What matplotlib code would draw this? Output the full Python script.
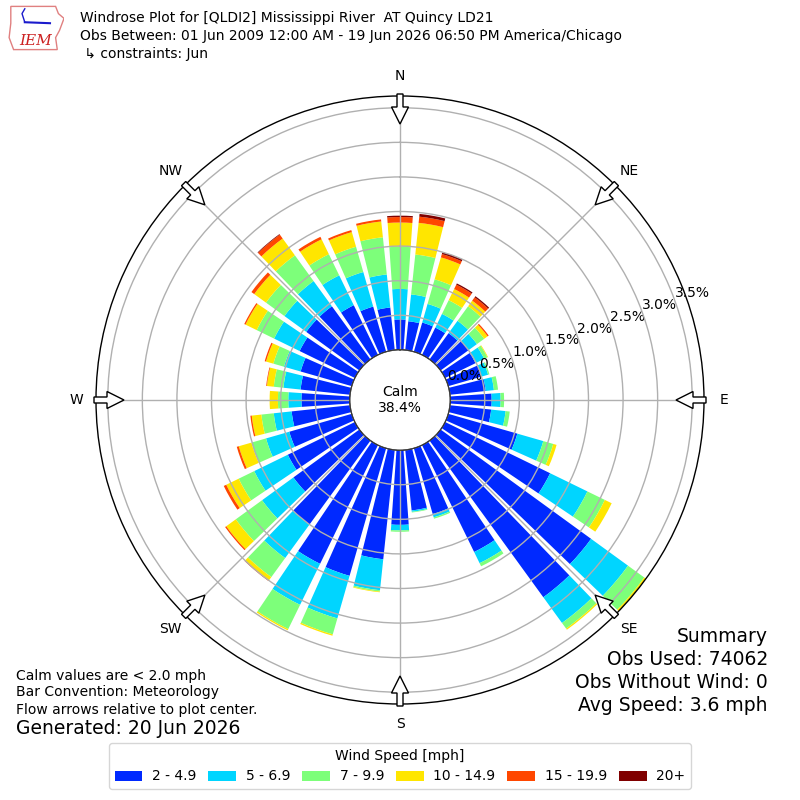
import numpy as np
import matplotlib
matplotlib.use("Agg")
import matplotlib.pyplot as plt
from matplotlib.patches import Circle, FancyArrow, Patch, Polygon

# direction bins (deg, meteorological) and percent of obs per speed bin
directions = np.arange(0, 360, 10)
bin_labels = ["2 - 4.9", "5 - 6.9", "7 - 9.9", "10 - 14.9", "15 - 19.9", "20+"]
spd_2_5 = [0.44, 0.42, 0.44, 0.44, 0.47, 0.50, 0.49, 0.50, 0.52, 0.60, 0.60, 1.04,
           1.69, 2.69, 2.80, 1.72, 0.99, 0.88, 1.08, 1.59, 1.92, 1.91, 1.50, 1.18,
           1.08, 0.94, 0.85, 0.70, 0.72, 0.77, 0.89, 0.95, 0.95, 0.80, 0.68, 0.62]
spd_5_7 = [0.44, 0.39, 0.28, 0.22, 0.22, 0.15, 0.14, 0.10, 0.12, 0.13, 0.21, 0.39,
           0.60, 0.66, 0.46, 0.18, 0.05, 0.02, 0.08, 0.45, 0.64, 0.66, 0.60, 0.56,
           0.54, 0.35, 0.26, 0.19, 0.25, 0.25, 0.41, 0.39, 0.45, 0.48, 0.52, 0.48]
spd_7_10 = [0.61, 0.58, 0.37, 0.22, 0.26, 0.13, 0.05, 0.02, 0.06, 0.05, 0.06, 0.15,
            0.28, 0.29, 0.10, 0.05, 0.02, 0.01, 0.02, 0.02, 0.24, 0.39, 0.34, 0.47,
            0.25, 0.22, 0.18, 0.15, 0.14, 0.16, 0.28, 0.33, 0.46, 0.34, 0.38, 0.54]
spd_10_15 = [0.35, 0.46, 0.33, 0.18, 0.10, 0.06, 0.01, 0.00, 0.00, 0.00, 0.00, 0.05,
             0.11, 0.03, 0.02, 0.00, 0.00, 0.00, 0.00, 0.01, 0.02, 0.02, 0.06, 0.17,
             0.20, 0.19, 0.14, 0.12, 0.10, 0.11, 0.18, 0.21, 0.30, 0.24, 0.22, 0.23]
spd_15_20 = [0.08, 0.09, 0.05, 0.07, 0.06, 0.02, 0.00, 0.00, 0.00, 0.00, 0.00, 0.00,
             0.00, 0.00, 0.00, 0.00, 0.00, 0.00, 0.00, 0.00, 0.00, 0.00, 0.01, 0.02,
             0.04, 0.03, 0.02, 0.00, 0.01, 0.02, 0.02, 0.05, 0.07, 0.04, 0.03, 0.03]
spd_20p = [0.02, 0.04, 0.03, 0.02, 0.02, 0.00, 0.00, 0.00, 0.00, 0.00, 0.00, 0.00,
           0.00, 0.00, 0.00, 0.00, 0.00, 0.00, 0.00, 0.00, 0.00, 0.00, 0.00, 0.00,
           0.00, 0.00, 0.00, 0.00, 0.00, 0.00, 0.00, 0.00, 0.01, 0.00, 0.00, 0.00]
calm_pct = 38.4
rticks = [0.0, 0.5, 1.0, 1.5, 2.0, 2.5, 3.0, 3.5]
compass = ["N", "NE", "E", "SE", "S", "SW", "W", "NW"]

series = [spd_2_5, spd_5_7, spd_7_10, spd_10_15, spd_15_20, spd_20p]
colors = plt.cm.jet(np.linspace(0, 1, 7))[1:]

fig = plt.figure(figsize=(8, 8), dpi=100)
ax = fig.add_axes([0.12, 0.12, 0.76, 0.76], projection="polar")
ax.set_theta_zero_location("N")
ax.set_theta_direction(-1)

theta = np.deg2rad(directions)
width = np.deg2rad(10) * 0.8
bottom = np.zeros(len(directions))
for vals, c in zip(series, colors):
    vals = np.array(vals)
    ax.bar(theta, vals, width=width, bottom=bottom, color=c, linewidth=0, zorder=1)
    bottom = bottom + vals

rmax = bottom.max()
ax.set_rorigin(-0.725)
ax.set_ylim(0, rmax)
ax.set_axisbelow(False)
ax.set_yticks(rticks)
ax.set_yticklabels([f"{v:.1f}%" for v in rticks], fontsize=10)
ax.set_rlabel_position(70)
ax.set_xticks(np.deg2rad(np.arange(0, 360, 45)))
ax.set_xticklabels([])
ax.grid(True, color="#b0b0b0", linewidth=1)
ax.spines["polar"].set_linewidth(1)

# calm circle in the middle
px = 1 / 608.0
ax.add_patch(Circle((0.5, 0.5), 50 * px, transform=ax.transAxes, facecolor="white",
                    edgecolor="black", linewidth=1, zorder=5))
ax.text(0.5, 0.5, f"Calm\n{calm_pct:.1f}%", transform=ax.transAxes, ha="center",
        va="center", fontsize=10, zorder=6)

# compass labels and inward flow arrows
for i, lab in enumerate(compass):
    a = np.deg2rad(i * 45)
    sx, sy = np.sin(a), np.cos(a)
    ax.text(0.5 + 0.533 * sx, 0.5 + 0.533 * sy, lab, transform=ax.transAxes,
            ha="center", va="center", fontsize=10)
    r0 = 0.5 + 2 * px
    arr = FancyArrow(0.5 + r0 * sx, 0.5 + r0 * sy, -30 * px * sx, -30 * px * sy,
                     width=6 * px, head_width=17 * px, head_length=17 * px,
                     length_includes_head=True, transform=ax.transAxes,
                     facecolor="white", edgecolor="black", linewidth=1,
                     clip_on=False, zorder=7)
    ax.add_patch(arr)

# header
fig.text(0.1, 0.978, "Windrose Plot for [QLDI2] Mississippi River  AT Quincy LD21", fontsize=10, va="center")
fig.text(0.1, 0.955, "Obs Between: 01 Jun 2009 12:00 AM - 19 Jun 2026 06:50 PM America/Chicago", fontsize=10, va="center")
fig.text(0.1, 0.933, " \u21b3 constraints: Jun", fontsize=10, va="center")

# rough IEM logo
lax = fig.add_axes([0.01, 0.935, 0.07, 0.06])
lax.axis("off")
lax.set_xlim(0, 1)
lax.set_ylim(0, 1)
lax.add_patch(Polygon([[0.05, 0.95], [0.85, 0.95], [0.9, 0.8], [1.0, 0.7], [0.92, 0.45],
                       [0.85, 0.3], [0.88, 0.05], [0.1, 0.05], [0.02, 0.3], [0.05, 0.6]],
                      closed=True, fill=False, edgecolor="#e08080", linewidth=1))
lax.plot([0.3, 0.75], [0.62, 0.6], color="#1a1acc", linewidth=1.5)
lax.plot([0.3, 0.25, 0.3], [0.62, 0.8, 0.9], color="#1a1acc", linewidth=1)
lax.text(0.5, 0.22, "IEM", color="#cc2020", fontsize=11, family="serif", style="italic",
         ha="center", va="center")

# footer notes
fig.text(0.02, 0.155, "Calm values are < 2.0 mph", fontsize=10, va="center")
fig.text(0.02, 0.135, "Bar Convention: Meteorology", fontsize=10, va="center")
fig.text(0.02, 0.113, "Flow arrows relative to plot center.", fontsize=10, va="center")
fig.text(0.02, 0.089, "Generated: 20 Jun 2026", fontsize=13.5, va="center")

summary = ["Summary", "Obs Used: 74062", "Obs Without Wind: 0", "Avg Speed: 3.6 mph"]
for k, s in enumerate(summary):
    fig.text(0.96, 0.205 - k * 0.0288, s, fontsize=13.5, ha="right", va="center")

handles = [Patch(facecolor=c, label=l) for c, l in zip(colors, bin_labels)]
fig.legend(handles=handles, loc="lower center", bbox_to_anchor=(0.5, 0.005), ncol=6,
           title="Wind Speed [mph]", fontsize=10, title_fontsize=10,
           handletextpad=0.7, columnspacing=0.85)

fig.savefig("out.png", dpi=100)
